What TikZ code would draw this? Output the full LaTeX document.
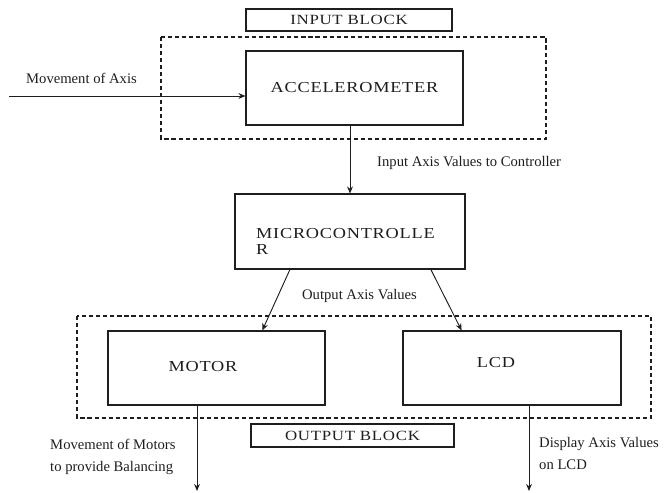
\documentclass[tikz,border=0pt]{standalone}
\usepackage{fontspec}
\setmainfont{Liberation Serif}
\newfontfamily\titleFont[FakeStretch=1.2, LetterSpace=5]{Liberation Serif}
\usetikzlibrary{arrows.meta,calc}
\tikzstyle{diagram} = [x = .03cm, y = -.03cm]
\definecolor{lineColor}{RGB}{30,30,30}
\tikzstyle{blockStyle} = [draw=lineColor, line width=.9pt, inner sep=0pt]
\tikzstyle{groupStyle} = [draw=lineColor, line width=.9pt, dash pattern=on 3.5pt off 2.5pt]
\tikzstyle{titleText} = [font=\titleFont\fontsize{13}{13.6}\selectfont, inner sep=0pt, text=lineColor]
\tikzstyle{blockText} = [font=\titleFont\fontsize{12}{14}\selectfont, text=lineColor]
\tikzstyle{labelText} = [font=\fontsize{12.5}{18.3}\selectfont, inner sep=0pt, text=lineColor]
\tikzstyle{flowArrow} = [draw=lineColor, line width=.8pt, -{Stealth[length=6pt, width=5pt]}]
\newcommand{\pxUnit}{.03cm}
\newcommand{\blockNode}[7][]{\node [blockStyle, #1, minimum width = {(#5 - #3) * \pxUnit}, minimum height = {(#6 - #4) * \pxUnit}] (#2) at ({(#3 + #5) / 2}, {(#4 + #6) / 2}) {#7};}

\begin{document}
\begin{tikzpicture}[diagram]
    \useasboundingbox (0,0) rectangle (664,492);
    \draw [groupStyle] (161,37) rectangle (546,139);
    \draw [groupStyle] (77,316) rectangle (651,418);
    \blockNode[blockText]{inputTag}{246}{9}{452}{31}{INPUT BLOCK}
    \blockNode[titleText]{accel}{246}{51}{463}{125}{ACCELEROMETER}
    \blockNode{micro}{235}{194}{465}{269}{}
    \blockNode{motor}{108}{331}{325}{405}{}
    \blockNode{lcd}{403}{331}{621}{405}{}
    \blockNode[blockText]{outputTag}{251}{424}{454}{447}{OUTPUT BLOCK}
    \node [titleText, align=left, anchor=west] (microText) at (256,241) {MICROCONTROLLE\\R};
    \node [titleText] (motorText) at (203,367) {MOTOR};
    \node [titleText] (lcdText) at (496,363) {LCD};
    \coordinate (axisIn) at (9,96);
    \coordinate (motorOut) at (197,491);
    \coordinate (lcdOut) at (529,491);
    \draw [flowArrow] (axisIn) -- (axisIn -| accel.west);
    \draw [flowArrow] (micro.north |- accel.south) -- (micro.north);
    \draw [flowArrow] ($(micro.south west)!.24!(micro.south east)$) -- ($(motor.north west)!.71!(motor.north east)$);
    \draw [flowArrow] ($(micro.south west)!.85!(micro.south east)$) -- ($(lcd.north west)!.27!(lcd.north east)$);
    \draw [flowArrow] (motorOut |- motor.south) -- (motorOut);
    \draw [flowArrow] (lcdOut |- lcd.south) -- (lcdOut);
    \node [labelText] (axisLabel) at (81.5,78) {Movement of Axis};
    \node [labelText, anchor=west] (inputLabel) at (377,163) {Input Axis Values to Controller};
    \node [labelText] (outputLabel) at (359.5,296) {Output Axis Values};
    \node [labelText, align=left, anchor=west] (motorLabel) at (50,457) {Movement of Motors\\to provide Balancing};
    \node [labelText, align=left, anchor=west] (lcdLabel) at (539,453.5) {Display Axis Values\\on LCD};
\end{tikzpicture}
\end{document}
